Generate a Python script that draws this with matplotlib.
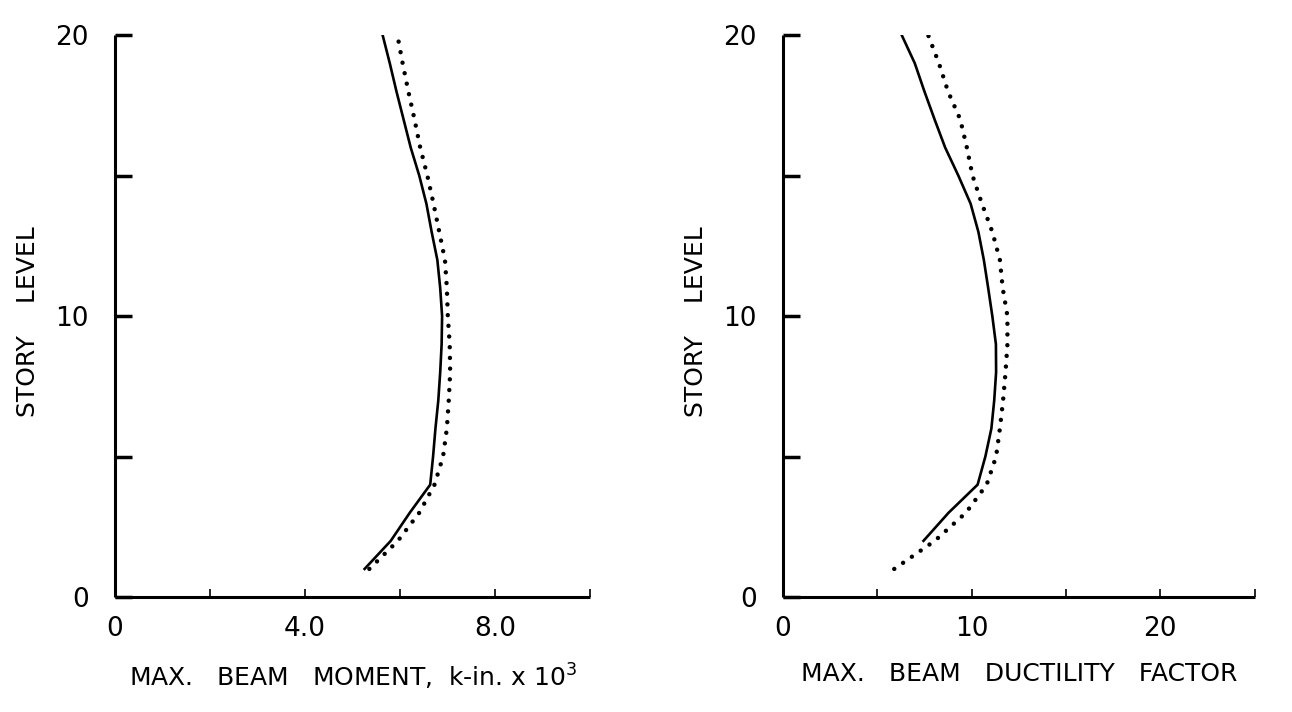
import matplotlib
matplotlib.use('Agg')
import matplotlib.pyplot as plt
from matplotlib.ticker import FixedLocator

# story levels and values
stories = list(range(1, 21))
moment_solid = [5.25, 5.8, 6.2, 6.63, 6.69, 6.74, 6.8, 6.84, 6.87, 6.88,
                6.84, 6.78, 6.66, 6.55, 6.4, 6.22, 6.07, 5.92, 5.78, 5.63]
moment_dotted = [5.35, 5.95, 6.4, 6.72, 6.9, 6.98, 7.02, 7.05, 7.04, 7.0,
                 6.98, 6.94, 6.82, 6.7, 6.57, 6.42, 6.3, 6.17, 6.05, 5.94]

duct_stories = list(range(2, 21))
duct_solid = [7.45, 8.78, 10.32, 10.73, 11.05, 11.2, 11.3, 11.29, 11.1,
              10.88, 10.65, 10.36, 9.95, 9.3, 8.6, 8.04, 7.5, 6.99, 6.3]
duct_dotted = [5.9, 8.05, 9.7, 10.8, 11.3, 11.5, 11.67, 11.8, 11.9, 11.9,
               11.65, 11.5, 11.1, 10.55, 10.05, 9.75, 9.4, 8.75, 8.27, 7.7]

plt.rcParams['font.family'] = ['DejaVu Sans']

fig = plt.figure(figsize=(12.92, 7.12), dpi=100)
ax1 = fig.add_axes([0.089, 0.1615, 0.368, 0.789])
ax2 = fig.add_axes([0.606, 0.1615, 0.365, 0.789])

dot_style = dict(color='black', lw=3.2, linestyle=(0, (0.01, 2.4)),
                 dash_capstyle='round')

ax1.plot(moment_solid, stories, color='black', lw=1.9)
ax1.plot(moment_dotted, stories, **dot_style)
ax2.plot(duct_solid, duct_stories, color='black', lw=1.9)
ax2.plot(duct_dotted, stories, **dot_style)


def style_axis(ax, xmax, xmajor, xminor, xlabels, xlabel):
    ax.set_xlim(0, xmax)
    ax.set_ylim(0, 20)
    for side in ['top', 'right']:
        ax.spines[side].set_visible(False)
    for side in ['left', 'bottom']:
        ax.spines[side].set_linewidth(2.2)
        ax.spines[side].set_capstyle('butt')
    ax.xaxis.set_major_locator(FixedLocator(xmajor))
    ax.xaxis.set_minor_locator(FixedLocator(xminor))
    ax.set_xticklabels(xlabels)
    ax.yaxis.set_major_locator(FixedLocator([0, 10, 20]))
    ax.yaxis.set_minor_locator(FixedLocator([5, 15]))
    ax.set_yticklabels(['0', '10', '20'])
    ax.tick_params(axis='y', which='both', direction='in', length=12,
                   width=2.5, labelsize=19, pad=19)
    ax.tick_params(axis='x', which='both', direction='in', length=6,
                   width=1.2, labelsize=19, pad=14)
    ax.set_ylabel('STORY    LEVEL', fontsize=18)
    ax.yaxis.set_label_coords(-0.158, 0.49)
    ax.set_xlabel(xlabel, fontsize=18, labelpad=14)
    ax.patch.set_alpha(0)


style_axis(ax1, 10, [0, 4, 8], [2, 6, 10], ['0', '4.0', '8.0'],
           r'MAX.   BEAM   MOMENT,  k-in. x 10$^3$')
style_axis(ax2, 25, [0, 10, 20], [5, 15, 25], ['0', '10', '20'],
           'MAX.   BEAM   DUCTILITY   FACTOR')

fig.savefig('out.png', dpi=100, facecolor='white')
